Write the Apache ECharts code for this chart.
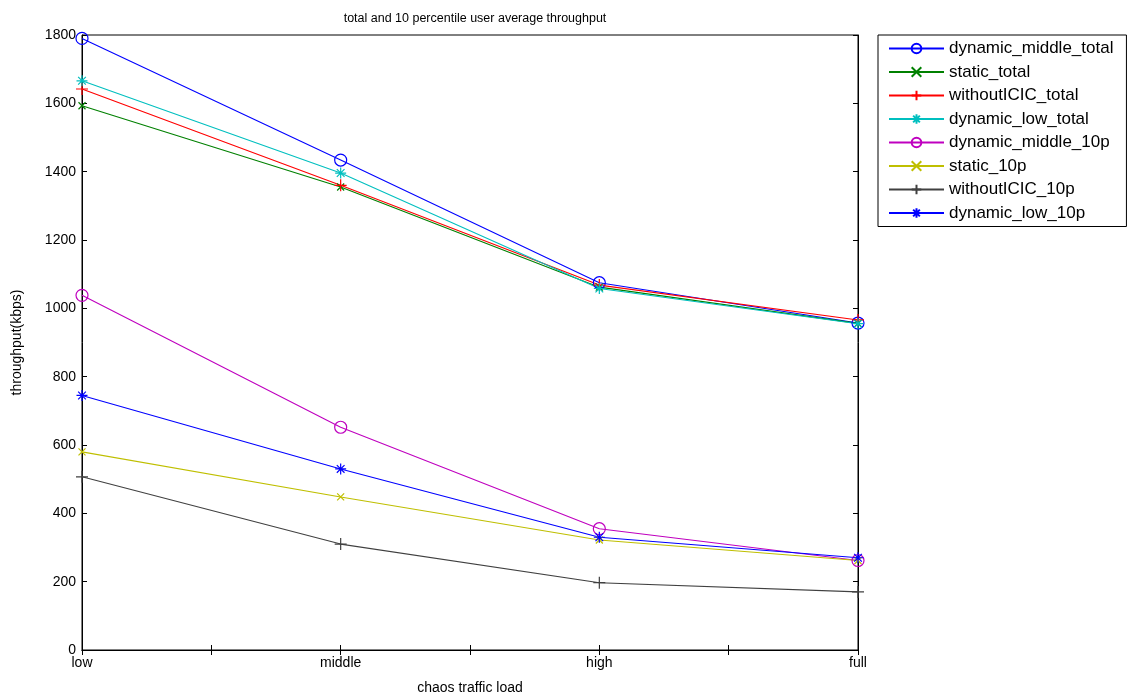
<!DOCTYPE html>
<html><head><meta charset="utf-8">
<script src="https://cdn.jsdelivr.net/npm/echarts@6/dist/echarts.min.js"></script>
<style>html,body{margin:0;padding:0;background:#fff}#c{width:1131px;height:695px}</style>
</head><body><div id="c"></div>
<script>
const categories = ['low', 'middle', 'high', 'full'];
const yTicks = [0, 200, 400, 600, 800, 1000, 1200, 1400, 1600, 1800];
const seriesNames = ['dynamic_middle_total','static_total','withoutICIC_total','dynamic_low_total','dynamic_middle_10p','static_10p','withoutICIC_10p','dynamic_low_10p'];
const dynamic_middle_total = [1790, 1434, 1075, 957];
const static_total = [1593, 1355, 1062, 956];
const withoutICIC_total = [1642, 1360, 1068, 966];
const dynamic_low_total = [1666, 1396, 1058, 955];
const dynamic_middle_10p = [1038, 652, 355, 262];
const static_10p = [580, 448, 322, 262];
const withoutICIC_10p = [507, 310, 197, 170];
const dynamic_low_10p = [745, 530, 330, 270];
const values = [dynamic_middle_total, static_total, withoutICIC_total, dynamic_low_total, dynamic_middle_10p, static_10p, withoutICIC_10p, dynamic_low_10p];
const colors = ['#0000ff','#008000','#ff0000','#00bfbf','#bf00bf','#bfbf00','#404040','#0000ff'];
const PLUS = 'path://M0,5 L10,5 M5,0 L5,10';
const CROSS = 'path://M1.5,1.5 L8.5,8.5 M8.5,1.5 L1.5,8.5';
const STAR = 'path://M0,5 L10,5 M5,0 L5,10 M1.5,1.5 L8.5,8.5 M8.5,1.5 L1.5,8.5';
const symbols = ['circle', CROSS, PLUS, STAR, 'circle', CROSS, PLUS, STAR];
const sizes = [12, 7, 12, 11, 12, 7, 12, 11];

const series = seriesNames.map((n, i) => ({
  name: n, type: 'line',
  data: values[i].map((v, j) => [j + 1, v]),
  symbol: symbols[i], symbolSize: sizes[i], showAllSymbol: true,
  lineStyle: { color: colors[i], width: 1.1 },
  itemStyle: { color: 'rgba(0,0,0,0)', borderColor: colors[i], borderWidth: 1.2 },
  emphasis: { disabled: true },
  animation: false
}));

const chart = echarts.init(document.getElementById('c'));
const font = 'Liberation Sans, Arial, sans-serif';
chart.setOption({
  animation: false,
  textStyle: { fontFamily: font },
  title: { text: 'total and 10 percentile user average throughput', left: 470, top: 7, textAlign: 'center',
    textStyle: { fontSize: 12.5, fontWeight: 'normal', color: '#000', fontFamily: font } },
  grid: { left: 82, right: 273, top: 35, bottom: 45, show: true, borderColor: '#000', borderWidth: 1,
    containLabel: false, outerBoundsMode: 'none' },
  legend: {
    orient: 'vertical', left: 878, top: 35,
    backgroundColor: '#fff', borderColor: '#000', borderWidth: 1,
    padding: [5, 13, 5, 10], itemWidth: 55, itemHeight: 12, itemGap: 6.5,
    textStyle: { fontSize: 17, color: '#000', fontFamily: font, padding: [0, 0, 0, 0] },
    data: seriesNames
  },
  xAxis: [{
    type: 'value', min: 1, max: 4, interval: 0.5,
    name: 'chaos traffic load', nameLocation: 'middle', nameGap: 31,
    nameTextStyle: { fontSize: 14, color: '#000' },
    axisLine: { lineStyle: { color: '#000' } },
    axisTick: { inside: true, length: 5, lineStyle: { color: '#000' } },
    splitLine: { show: false },
    axisLabel: { color: '#000', fontSize: 14, margin: 6,
      formatter: v => (Number.isInteger(v) ? categories[v - 1] : '') }
  }, {
    type: 'value', position: 'top', min: 1, max: 4, interval: 0.5,
    axisLine: { lineStyle: { color: '#000' } },
    axisTick: { inside: true, length: 5, lineStyle: { color: '#000' } },
    axisLabel: { show: false }, splitLine: { show: false }
  }],
  yAxis: [{
    type: 'value', min: 0, max: 1800, interval: 200,
    name: 'throughput(kbps)', nameLocation: 'middle', nameGap: 58,
    nameTextStyle: { fontSize: 14, color: '#000' },
    axisLine: { show: true, lineStyle: { color: '#000' } },
    axisTick: { show: true, inside: true, length: 5, lineStyle: { color: '#000' } },
    splitLine: { show: false },
    axisLabel: { color: '#000', fontSize: 14, margin: 6, formatter: v => (yTicks.includes(v) ? String(v) : '') }
  }, {
    type: 'value', position: 'right', min: 0, max: 1800, interval: 200,
    axisLine: { show: true, lineStyle: { color: '#000' } },
    axisTick: { show: true, inside: true, length: 5, lineStyle: { color: '#000' } },
    axisLabel: { show: false }, splitLine: { show: false }
  }],
  series: series
});
</script></body></html>
